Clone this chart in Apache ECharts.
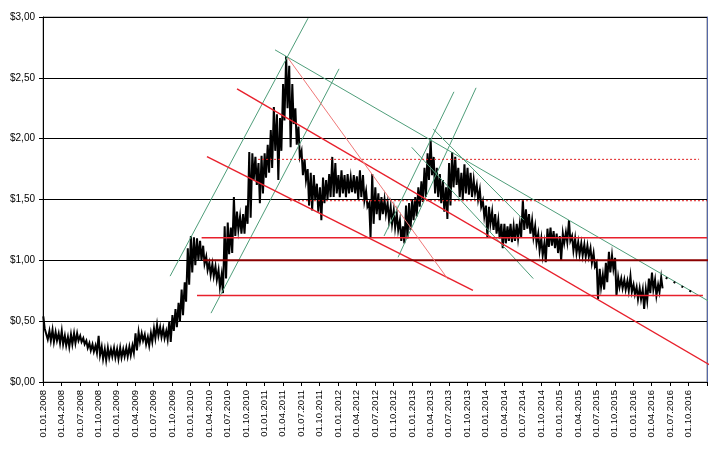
<!DOCTYPE html>
<html>
<head>
<meta charset="utf-8">
<script src="https://cdn.jsdelivr.net/npm/echarts@6/dist/echarts.min.js"></script>
<style>
html,body{margin:0;padding:0;background:#fff;}
#c{width:723px;height:449px;}
</style>
</head>
<body>
<div id="c"></div>
<script>
// Quarter tick labels (x axis: value = quarters since 01.01.2008)
var quarterLabels = [
 '01.01.2008','01.04.2008','01.07.2008','01.10.2008',
 '01.01.2009','01.04.2009','01.07.2009','01.10.2009',
 '01.01.2010','01.04.2010','01.07.2010','01.10.2010',
 '01.01.2011','01.04.2011','01.07.2011','01.10.2011',
 '01.01.2012','01.04.2012','01.07.2012','01.10.2012',
 '01.01.2013','01.04.2013','01.07.2013','01.10.2013',
 '01.01.2014','01.04.2014','01.07.2014','01.10.2014',
 '01.01.2015','01.04.2015','01.07.2015','01.10.2015',
 '01.01.2016','01.04.2016','01.07.2016','01.10.2016'
];
var yTicks = [0, 0.5, 1, 1.5, 2, 2.5, 3];
var periodsPerQuarter = 6; // half-month periods

// Half-month price ranges (low / high), from 01.01.2008
var lows = [
 0.44,0.35,0.34,0.33,0.34,0.32,0.31,0.30,0.29,0.31,0.32,0.34,0.33,0.31,0.28,0.26,0.25,0.24,0.22,0.19,
 0.18,0.20,0.21,0.20,0.19,0.20,0.21,0.21,0.22,0.24,0.26,0.33,0.34,0.31,0.30,0.33,0.36,0.38,0.37,0.36,
 0.35,0.33,0.42,0.45,0.50,0.55,0.66,0.80,0.90,0.96,1.00,1.00,0.97,0.92,0.88,0.87,0.84,0.78,0.73,0.85,
 1.05,1.06,1.20,1.25,1.22,1.22,1.30,1.35,1.66,1.62,1.47,1.55,1.68,1.72,1.76,1.90,1.66,1.90,2.15,2.25,
 1.93,2.12,1.95,1.85,1.70,1.66,1.45,1.41,1.50,1.40,1.33,1.47,1.50,1.52,1.52,1.55,1.52,1.55,1.52,1.55,
 1.56,1.55,1.50,1.52,1.49,1.44,1.19,1.30,1.38,1.33,1.38,1.38,1.33,1.30,1.27,1.25,1.16,1.14,1.18,1.25,
 1.33,1.36,1.44,1.48,1.52,1.66,1.70,1.55,1.52,1.47,1.40,1.34,1.45,1.60,1.62,1.52,1.50,1.55,1.54,1.52,
 1.55,1.50,1.44,1.36,1.19,1.30,1.25,1.22,1.18,1.10,1.14,1.16,1.15,1.16,1.18,1.19,1.25,1.26,1.22,1.19,
 1.14,1.08,1.04,0.985,1.11,1.12,1.10,1.06,1.00,1.14,1.15,1.16,1.08,1.06,1.05,1.04,1.03,1.03,0.98,0.95,
 0.68,0.78,0.76,0.82,0.90,0.93,0.71,0.78,0.77,0.76,0.75,0.74,0.72,0.68,0.68,0.60,0.67,0.73,0.76,0.71,
 0.74,0.77
];
var highs = [
 0.54,0.45,0.42,0.43,0.41,0.40,0.42,0.38,0.37,0.39,0.40,0.40,0.38,0.36,0.34,0.32,0.31,0.30,0.38,0.29,
 0.27,0.28,0.27,0.28,0.27,0.28,0.27,0.28,0.29,0.30,0.40,0.41,0.40,0.39,0.37,0.40,0.44,0.47,0.45,0.44,
 0.42,0.50,0.55,0.60,0.65,0.76,0.82,1.10,1.20,1.19,1.18,1.16,1.12,1.03,0.98,0.97,0.95,0.92,0.88,1.28,
 1.31,1.27,1.52,1.40,1.36,1.38,1.45,1.89,1.88,1.85,1.80,1.86,1.88,1.95,2.07,2.26,2.20,2.17,2.45,2.68,
 2.60,2.45,2.25,2.10,1.90,1.83,1.75,1.72,1.70,1.63,1.60,1.68,1.66,1.71,1.85,1.80,1.70,1.74,1.70,1.71,
 1.68,1.70,1.69,1.74,1.70,1.57,1.47,1.71,1.60,1.55,1.52,1.50,1.47,1.44,1.41,1.38,1.33,1.28,1.45,1.47,
 1.50,1.52,1.60,1.65,1.76,1.88,1.99,1.85,1.76,1.71,1.66,1.60,1.80,1.89,1.85,1.76,1.72,1.79,1.76,1.72,
 1.66,1.62,1.58,1.49,1.45,1.44,1.40,1.38,1.33,1.30,1.30,1.28,1.30,1.28,1.30,1.30,1.50,1.42,1.38,1.33,
 1.28,1.22,1.18,1.14,1.26,1.27,1.24,1.22,1.20,1.22,1.23,1.33,1.20,1.18,1.15,1.14,1.13,1.12,1.10,1.06,
 0.98,0.93,0.88,0.98,1.07,1.04,1.02,0.86,0.85,0.84,0.83,0.87,0.80,0.78,0.77,0.76,0.76,0.85,0.90,0.84,
 0.80,0.86
];

// Trend lines: [q1, v1, q2, v2]
var greenLines = [
 [6.89, 0.87, 14.37, 2.99],
 [9.11, 0.566, 16.05, 2.574],
 [12.58, 2.73, 36.65, 0.615],
 [18.49, 1.20, 22.28, 2.385],
 [19.25, 1.025, 23.48, 2.418],
 [19.99, 1.929, 26.58, 0.85],
 [21.15, 2.08, 26.08, 1.33]
];
var redLines = [
 [10.52, 2.41, 36.16, 0.139],
 [8.89, 1.852, 23.31, 0.754],
 [8.60, 1.186, 36.0, 1.186],
 [8.35, 0.711, 35.78, 0.711]
];
var redDarkLines = [
 [8.67, 1.0, 36.87, 1.0]
];
var redDottedLines = [
 [11.66, 1.83, 35.57, 1.83],
 [13.39, 1.49, 36.0, 1.49]
];
var pinkLines = [
 [13.28, 2.664, 21.96, 0.844]
];
var forecastDots = [
 [33.76, 0.858, 35.2, 0.738]
];

var chart = echarts.init(document.getElementById('c'), null, {renderer:'canvas'});

function seg(arr, color, width, type, z){
  return arr.map(function(l){
    return {
      type:'line', data:[[l[0],l[1]],[l[2],l[3]]], showSymbol:false, symbol:'none',
      clip:false, silent:true, animation:false, z:z||5,
      lineStyle:{color:color, width:width, type:type||'solid'}
    };
  });
}

// zig-zag path through each period's high and low (high-low bars look)
var pricePath = [];
lows.forEach(function(l, i){
  var q0 = i / periodsPerQuarter;
  var step = 1 / periodsPerQuarter;
  pricePath.push([q0 + step*0.1, highs[i]]);
  pricePath.push([q0 + step*0.55, l]);
});

var series = [{
  type:'line', data: pricePath, showSymbol:false, symbol:'none', silent:true,
  animation:false, z:3, lineStyle:{color:'#000', width:2, join:'miter'}
}];
series = series
 .concat(seg(greenLines, '#4f9e7a', 1, 'solid', 6))
 .concat(seg(redLines, '#e8202c', 1.4, 'solid', 6))
 .concat(seg(redDarkLines, '#8b0000', 2, 'solid', 6))
 .concat(seg(redDottedLines, '#e02020', 1, [2,2], 6))
 .concat(seg(pinkLines, '#f07878', 1, 'solid', 6))
 .concat(seg(forecastDots, '#000', 2, [2,7], 6));

chart.setOption({
  animation:false,
  backgroundColor:'#fff',
  grid:{left:43, top:17, right:16, bottom:67, show:true, borderColor:'#8a8a8a', borderWidth:1, backgroundColor:'transparent'},
  xAxis:[{
    type:'value', min:0, max:36, interval:1,
    axisLine:{show:true, onZero:false, lineStyle:{color:'#000', width:1}},
    axisTick:{show:true, length:4, lineStyle:{color:'#000'}},
    splitLine:{show:false},
    axisLabel:{rotate:90, margin:8, fontFamily:'Liberation Sans', fontSize:9.5, color:'#000',
      formatter:function(v){ var k=Math.round(v); return quarterLabels[k] || ''; }}
  }],
  yAxis:[{
    type:'value', min:0, max:3, interval:0.5,
    axisLine:{show:true, lineStyle:{color:'#000', width:1}},
    axisTick:{show:true, length:4, lineStyle:{color:'#000'}},
    splitLine:{show:true, lineStyle:{color:'#000', width:1}},
    axisLabel:{margin:8, fontFamily:'Liberation Sans', fontSize:10, color:'#000',
      formatter:function(v){ return '$' + v.toFixed(2).replace('.', ','); }}
  },{
    type:'value', min:0, max:3, interval:0.5, position:'right',
    axisLine:{show:true, lineStyle:{color:'#5568a8', width:1}},
    axisTick:{show:false}, axisLabel:{show:false}, splitLine:{show:false}
  }],
  series: series
});
</script>
</body>
</html>
